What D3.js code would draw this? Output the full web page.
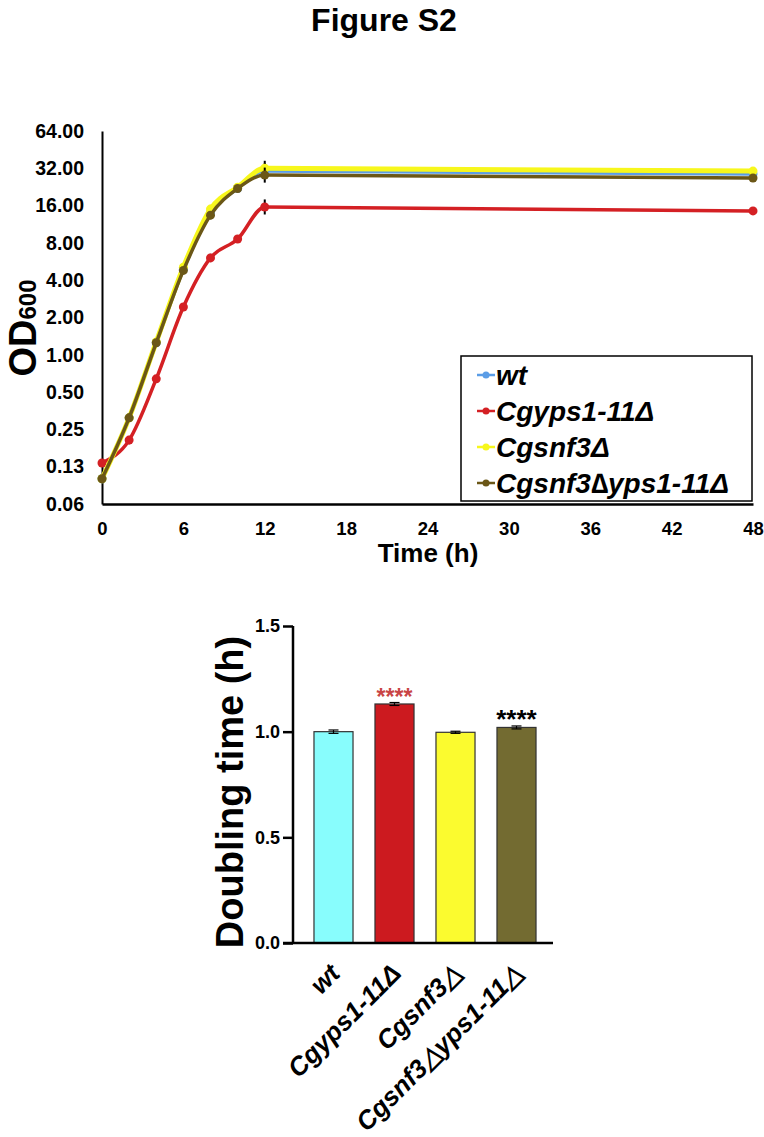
<!DOCTYPE html>
<html><head><meta charset="utf-8">
<script src="https://cdn.jsdelivr.net/npm/d3@7"></script>
<style>body{margin:0;background:#fff;} svg{display:block;font-family:"Liberation Sans",Arial,sans-serif;}</style>
</head><body>
<svg id="c" width="764" height="1137"></svg>
<script>
// ---- Growth curve data ----
const times = [0, 2, 4, 6, 8, 10, 12, 48];
const wtOD = [0.10, 0.31, 1.25, 4.9, 14.0, 22.0, 30.5, 28.8];
const yps1OD = [0.134, 0.205, 0.64, 2.43, 6.05, 8.6, 15.6, 14.5];
const snf3OD = [0.10, 0.31, 1.27, 5.1, 15.0, 22.5, 32.0, 30.4];
const snf3yps1OD = [0.10, 0.31, 1.25, 4.8, 13.4, 22.0, 28.2, 26.7];
const odRelErr = [0.03, 0.08, 0.06, 0.06, 0.08, 0.04, 0.15, 0.02];
const seriesNames = ["wt", "Cgyps1-11Δ", "Cgsnf3Δ", "Cgsnf3∆yps1-11Δ"];
const seriesColors = ["#5b9de6", "#d42024", "#f7f71c", "#6b5717"];
const yTickVals = [0.0625, 0.125, 0.25, 0.5, 1, 2, 4, 8, 16, 32, 64];
const yTickLabels = ["0.06", "0.13", "0.25", "0.50", "1.00", "2.00", "4.00", "8.00", "16.00", "32.00", "64.00"];
const xTickVals = [0, 6, 12, 18, 24, 30, 36, 42, 48];

// ---- Doubling time data ----
const strains = ["wt", "Cgyps1-11Δ", "Cgsnf3△", "Cgsnf3△yps1-11△"];
const doubling = [1.0, 1.131, 0.997, 1.020];
const doublingErr = [0.008, 0.007, 0.005, 0.007];
const barColors = ["#88fdfd", "#cc1a1f", "#fbfb2f", "#736b31"];
const sig = ["", "****", "", "****"];
const sigColors = ["#000", "#c94545", "#000", "#000"];
const barTicks = [0.0, 0.5, 1.0, 1.5];

const FONT = "Liberation Sans, Arial, sans-serif";
const svg = d3.select("#c");

svg.append("text").attr("x", 384).attr("y", 31).attr("text-anchor", "middle")
  .attr("font-size", 32).attr("font-weight", "bold").text("Figure S2");

// ---- Line chart ----
const x = d3.scaleLinear().domain([0, 48]).range([102, 753]);
const y = d3.scaleLog().base(2).domain([0.0625, 64]).range([504, 131]);

const g1 = svg.append("g");
const yAx = g1.append("g").attr("transform", "translate(102,0)")
  .call(d3.axisLeft(y).tickValues(yTickVals).tickSize(0).tickPadding(18)
    .tickFormat((d, i) => yTickLabels[i]));
yAx.select(".domain").attr("stroke", "#000").attr("stroke-width", 2);
yAx.selectAll("text").attr("font-size", 19.5).attr("font-weight", "bold")
  .attr("font-family", FONT).attr("fill", "#000");

const xAx = g1.append("g").attr("transform", "translate(0,504)")
  .call(d3.axisBottom(x).tickValues(xTickVals).tickSize(0).tickPadding(18));
xAx.select(".domain").attr("stroke", "#000").attr("stroke-width", 2.5);
xAx.selectAll("text").attr("font-size", 18.5).attr("font-weight", "bold")
  .attr("font-family", FONT).attr("fill", "#000");

g1.append("text").attr("x", 428).attr("y", 562).attr("text-anchor", "middle")
  .attr("font-size", 26).attr("font-weight", "bold").text("Time (h)");

const odLab = g1.append("text").attr("transform", "translate(36,328) rotate(-90)")
  .attr("text-anchor", "middle").attr("font-weight", "bold");
odLab.append("tspan").attr("font-size", 38).text("OD");
odLab.append("tspan").attr("font-size", 24).text("600");

const allSeries = [wtOD, yps1OD, snf3OD, snf3yps1OD];
const line = d3.line().x((d, i) => x(times[i])).y(d => y(d)).curve(d3.curveMonotoneX);
const drawOrder = [1, 0, 2, 3];
drawOrder.forEach(si => {
  const vals = allSeries[si];
  const sg = g1.append("g");
  vals.forEach((v, i) => {
    sg.append("line").attr("x1", x(times[i])).attr("x2", x(times[i]))
      .attr("y1", y(v * (1 + odRelErr[i]))).attr("y2", y(v / (1 + odRelErr[i])))
      .attr("stroke", "#000").attr("stroke-width", 2);
  });
  sg.append("path").datum(vals).attr("d", line).attr("fill", "none")
    .attr("stroke", seriesColors[si]).attr("stroke-width", si === 2 ? 5 : 3.5);
  sg.selectAll("circle").data(vals).join("circle")
    .attr("cx", (d, i) => x(times[i])).attr("cy", d => y(d)).attr("r", 4.5)
    .attr("fill", seriesColors[si]);
});

// legend
const lg = g1.append("g");
lg.append("rect").attr("x", 461).attr("y", 356).attr("width", 291).attr("height", 145)
  .attr("fill", "#fff").attr("stroke", "#000").attr("stroke-width", 1.5);
seriesNames.forEach((n, i) => {
  const ly = 375 + i * 36;
  lg.append("line").attr("x1", 477).attr("x2", 495).attr("y1", ly).attr("y2", ly)
    .attr("stroke", seriesColors[i]).attr("stroke-width", 2.5);
  lg.append("circle").attr("cx", 486).attr("cy", ly).attr("r", 3.5).attr("fill", seriesColors[i]);
  lg.append("text").attr("x", 496).attr("y", ly + 10).attr("font-size", 28)
    .attr("font-weight", "bold").attr("font-style", "italic").text(n);
});

// ---- Bar chart ----
const xb = d3.scaleBand().domain(strains).range([303, 547]).paddingInner(0.36).paddingOuter(0.18);
const yb = d3.scaleLinear().domain([0, 1.5]).range([943, 626]);
const g2 = svg.append("g");

g2.selectAll("rect.bar").data(doubling).join("rect").attr("class", "bar")
  .attr("x", (d, i) => xb(strains[i])).attr("width", xb.bandwidth())
  .attr("y", d => yb(d)).attr("height", d => yb(0) - yb(d))
  .attr("fill", (d, i) => barColors[i]).attr("stroke", "#333").attr("stroke-width", 1.2);

doubling.forEach((v, i) => {
  const cx = xb(strains[i]) + xb.bandwidth() / 2;
  const e = doublingErr[i];
  g2.append("line").attr("x1", cx).attr("x2", cx).attr("y1", yb(v + e)).attr("y2", yb(v - e))
    .attr("stroke", "#000").attr("stroke-width", 1.2);
  [v + e, v - e].forEach(t => g2.append("line").attr("x1", cx - 5).attr("x2", cx + 5)
    .attr("y1", yb(t)).attr("y2", yb(t)).attr("stroke", "#000").attr("stroke-width", 1.2));
  if (sig[i]) {
    g2.append("text").attr("x", cx).attr("y", yb(v) + 1).attr("text-anchor", "middle")
      .attr("font-size", i === 1 ? 23 : 26).attr("font-weight", "bold").attr("fill", sigColors[i]).text(sig[i]);
  }
});

const ybAx = g2.append("g").attr("transform", "translate(293,0)")
  .call(d3.axisLeft(yb).tickValues(barTicks).tickSize(10).tickPadding(3).tickFormat(d3.format(".1f")));
ybAx.select(".domain").attr("stroke-width", 2.5).attr("d", "M0,626V943");
ybAx.selectAll(".tick line").attr("stroke-width", 2.5);
ybAx.selectAll("text").attr("font-size", 18).attr("font-weight", "bold")
  .attr("font-family", FONT).attr("fill", "#000");

g2.append("line").attr("x1", 283).attr("x2", 553).attr("y1", 943).attr("y2", 943)
  .attr("stroke", "#000").attr("stroke-width", 2.5);

g2.append("text").attr("transform", "translate(243,792) rotate(-90)").attr("text-anchor", "middle")
  .attr("font-size", 38).attr("font-weight", "bold").text("Doubling time (h)");

strains.forEach((s, i) => {
  const cx = xb(s) + xb.bandwidth() / 2;
  g2.append("text").attr("transform", `translate(${cx + 8},975) rotate(-45)`)
    .attr("text-anchor", "end").attr("font-size", 26).attr("font-weight", "bold")
    .attr("font-style", "italic").text(s);
});
</script>
</body></html>
